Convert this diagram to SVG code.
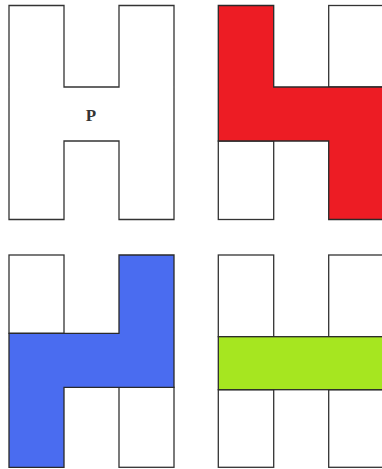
<svg xmlns="http://www.w3.org/2000/svg" width="382" height="469" viewBox="0 0 382 469">
<style>
.o{fill:#ffffff;stroke:#333333;stroke-width:1.3;stroke-linejoin:miter}
.s{stroke:#2a2a2a;stroke-width:1.3;stroke-linejoin:miter}
.t{font-family:"Liberation Serif","DejaVu Serif",serif;font-weight:bold;font-size:17px;fill:#333333}
</style>
<rect width="382" height="469" fill="#ffffff"/>
<g id="shape-P">
<path class="o" d="M9,5.5 H64 V87 H119 V5.5 H174 V219.5 H119 V141 H64 V219.5 H9 Z"/>
<text class="t" x="91" y="120.5" text-anchor="middle">P</text>
</g>
<g id="shape-red">
<rect class="o" x="328.7" y="5.5" width="56" height="81.5"/>
<rect class="o" x="218.3" y="141" width="55.4" height="78.5"/>
<path class="s" fill="#ED1C24" d="M218.3,5.5 H273.7 V87 H384 V219.5 H328.7 V141 H218.3 Z"/>
</g>
<g id="shape-blue">
<rect class="o" x="9" y="255" width="55" height="78.3"/>
<rect class="o" x="119" y="387.3" width="55" height="80"/>
<path class="s" fill="#4A6CF0" d="M119,255 H174 V387.3 H64 V467.3 H9 V333.3 H119 Z"/>
</g>
<g id="shape-green">
<rect class="o" x="218.3" y="255" width="55.4" height="81.7"/>
<rect class="o" x="218.3" y="389.7" width="55.4" height="77.6"/>
<rect class="o" x="328.7" y="255" width="56" height="81.7"/>
<rect class="o" x="328.7" y="389.7" width="56" height="77.6"/>
<rect class="s" fill="#A6E620" x="218.3" y="336.7" width="166" height="53"/>
</g>
<g id="connectors"></g>
</svg>
